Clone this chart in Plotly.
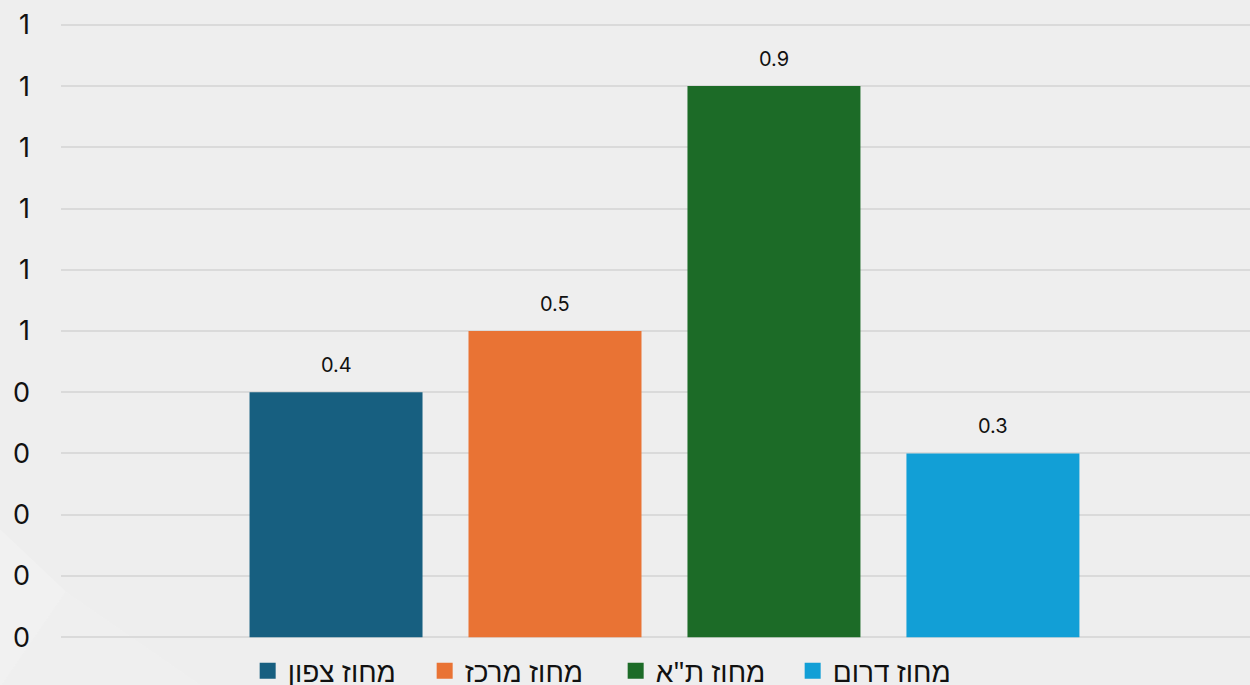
import plotly.graph_objects as go

categories = ["מחוז צפון", "מחוז מרכז", "מחוז ת\"א", "מחוז דרום"]
values = [0.4, 0.5, 0.9, 0.3]
colors = ["#175f80", "#e97334", "#1c6b27", "#129fd6"]
tick_vals = [0.0, 0.1, 0.2, 0.3, 0.4, 0.5, 0.6, 0.7, 0.8, 0.9, 1.0]
tick_labels = ["0", "0", "0", "0", "0", "1", "1", "1", "1", "1", "1"]

# legend entry widths (px) for spacing
legend_widths = [132, 146, 132, 125]

FONT = "Inter, Noto Sans, sans-serif"

fig = go.Figure()
for cat, val, col, lw in zip(categories, values, colors, legend_widths):
    fig.add_trace(go.Bar(
        x=[cat], y=[val], name=cat, width=0.79,
        marker=dict(color=col, line=dict(width=0)),
        showlegend=False, hoverinfo="skip",
    ))
    # legend proxy with larger square symbol
    fig.add_trace(go.Scatter(
        x=[None], y=[None], mode="markers", name=cat, legendwidth=lw,
        marker=dict(symbol="square", size=17, color=col),
    ))
    fig.add_annotation(
        x=cat, y=val, text=f"{val:.1f}", showarrow=False,
        yanchor="middle", yshift=27,
        font=dict(family=FONT, size=20, color="#111111"),
    )

fig.update_layout(
    width=1250, height=685,
    margin=dict(l=61, r=0, t=23, b=46, autoexpand=False),
    paper_bgcolor="#eeeeee", plot_bgcolor="#eeeeee",
    barmode="overlay",
    font=dict(family=FONT, color="#111111"),
    showlegend=True,
    legend=dict(
        orientation="h", x=0.157, xanchor="left",
        y=-0.052, yanchor="middle",
        font=dict(family="Noto Sans, sans-serif", size=28, color="#111111"),
        bgcolor="rgba(0,0,0,0)", itemclick=False, itemdoubleclick=False,
        traceorder="normal",
    ),
    xaxis=dict(
        type="category", categoryorder="array", categoryarray=categories,
        range=[-1.256, 4.174], showticklabels=False, showgrid=False,
        zeroline=False, showline=False, fixedrange=True,
    ),
    yaxis=dict(
        range=[-0.003, 1.003], tickmode="array", tickvals=tick_vals, ticktext=tick_labels,
        showgrid=True, gridcolor="#dadada", gridwidth=2, zeroline=False,
        showline=False, ticklabelstandoff=30,
        tickfont=dict(family=FONT, size=27, color="#111111"),
        fixedrange=True,
    ),
    shapes=[
        dict(type="path", xref="paper", yref="paper", layer="below",
             path="M -0.0513,0.178 L 0.004,0.077 L -0.0513,-0.078 Z",
             fillcolor="rgba(255,255,255,0.18)", line=dict(width=0)),
        dict(type="path", xref="paper", yref="paper", layer="below",
             path="M -0.0513,-0.078 L 0.004,0.077 L 0.12,-0.078 Z",
             fillcolor="rgba(255,255,255,0.1)", line=dict(width=0)),
    ],
)

fig.write_html("out.html", config={"displayModeBar": False},
               post_script="document.body.style.margin='0';")
